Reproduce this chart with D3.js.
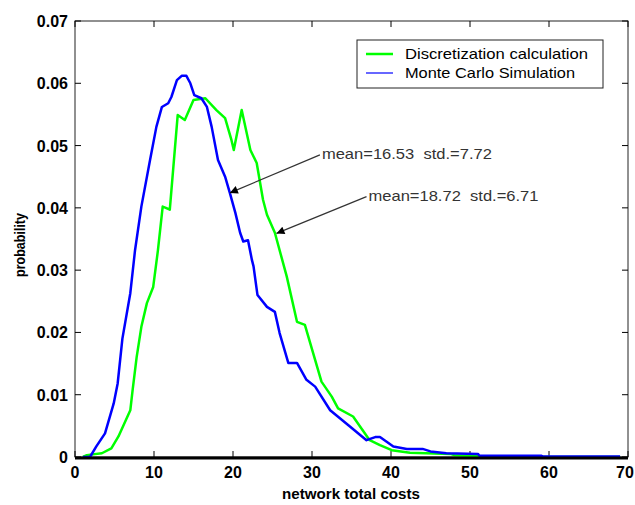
<!DOCTYPE html>
<html>
<head>
<meta charset="utf-8">
<script src="https://cdn.jsdelivr.net/npm/d3@7"></script>
<style>
    body { margin: 0; background: #fff; }
    svg text { font-family: "Liberation Sans", Arial, sans-serif; fill: #000; white-space: pre; }
</style>
</head>
<body>
<svg id="chart" width="635" height="505"></svg>
<script>
// Monte Carlo Simulation (blue)
const costsMC = [1, 1.9, 2.7, 3.8, 4.9, 5.4, 6.0, 7.0, 7.6, 8.4, 9.5, 10.3, 11.0, 11.8, 12.2, 12.9, 13.5, 14.1,
    14.6, 15.1, 16.0, 16.7, 17.3, 18.1, 19.0, 19.6, 20.3, 20.9, 21.3, 21.9, 22.4, 22.6, 23.1, 24.3, 25.3, 25.9,
    27.0, 28.1, 29.3, 30.4, 32.3, 34.8, 36.9, 38.0, 38.6, 40.3, 42.0, 44.0, 45.0, 47.0, 51.0, 51.2, 59.0, 59.2, 69.0];
const probMC = [0, 0, 0.0017, 0.0038, 0.0086, 0.0118, 0.0190, 0.0263, 0.0332, 0.0402, 0.0477, 0.0530, 0.0562, 0.0568,
    0.0578, 0.0605, 0.0612, 0.0612, 0.0600, 0.0581, 0.0576, 0.0562, 0.0530, 0.0477, 0.0450, 0.0424, 0.0392, 0.0360,
    0.0346, 0.0348, 0.0316, 0.0306, 0.0260, 0.0241, 0.0233, 0.0199, 0.0151, 0.0151, 0.0124, 0.0113, 0.0075, 0.0049,
    0.0027, 0.0032, 0.0032, 0.0017, 0.0013, 0.0013, 0.0009, 0.0006, 0.0005, 0.0002, 0.0002, 0.0001, 0.0001];

// Discretization calculation (green)
const costsDisc = [1, 1.5, 3.4, 4.6, 5.5, 7.0, 7.3, 7.8, 8.4, 9.1, 9.9, 10.5, 11.1, 11.5, 12.0, 13.0, 13.9, 15.0,
    16.5, 17.9, 19.0, 19.8, 20.1, 21.1, 22.2, 23.0, 23.8, 24.3, 25.3, 26.8, 28.1, 29.1, 31.2, 32.5, 33.3, 35.2,
    37.3, 38.6, 40.1, 42.4, 47.5, 48.0, 52.0, 60.0, 69.0];
const probDisc = [0, 0.0003, 0.0006, 0.0014, 0.0033, 0.0075, 0.0108, 0.0160, 0.0209, 0.0247, 0.0273, 0.0332, 0.0402,
    0.0400, 0.0397, 0.0549, 0.0541, 0.0573, 0.0576, 0.0557, 0.0544, 0.0509, 0.0493, 0.0557, 0.0493, 0.0472, 0.0413,
    0.0389, 0.0360, 0.0290, 0.0217, 0.0212, 0.0121, 0.0097, 0.0078, 0.0065, 0.0027, 0.0019, 0.0011, 0.0007, 0.0005,
    0.0003, 0.0001, 0, 0];

const xTicks = [0, 10, 20, 30, 40, 50, 60, 70];
const yTicks = [0, 0.01, 0.02, 0.03, 0.04, 0.05, 0.06, 0.07];
const seriesNames = ['Discretization calculation', 'Monte Carlo Simulation'];
const seriesColors = ['#00ff00', '#0000ff'];

// annotation text + where the arrow points (data units)
const noteLabels = ['mean=16.53  std.=7.72', 'mean=18.72  std.=6.71'];
const noteTips = [[19.6, 0.0424], [25.5, 0.0359]];
const noteTails = [[31.0, 0.0485], [36.9, 0.0418]];

const LEFT = 75, RIGHT = 628, TOP = 21, BOTTOM = 457, TICK = 6;

const svg = d3.select('#chart');

const x = d3.scaleLinear().domain([0, 70]).range([LEFT, RIGHT]),
    y = d3.scaleLinear().domain([0, 0.07]).range([BOTTOM, TOP]);

svg.append('defs').append('marker')
    .attr('id', 'arrow')
    .attr('viewBox', '0 0 10 10')
    .attr('refX', 10).attr('refY', 5)
    .attr('markerWidth', 11).attr('markerHeight', 8)
    .attr('markerUnits', 'userSpaceOnUse')
    .attr('orient', 'auto')
    .append('path')
    .attr('d', 'M0,0 L10,5 L0,10 Z')
    .style('fill', '#000');

// frame
svg.append('rect')
    .attr('x', LEFT).attr('y', TOP)
    .attr('width', RIGHT - LEFT).attr('height', BOTTOM - TOP)
    .style('fill', 'none').style('stroke', '#222').style('stroke-width', 1);

// ticks on all four sides, pointing inwards
const tickGroup = svg.append('g').style('stroke', '#000').style('stroke-width', 1);
xTicks.forEach(t => {
    tickGroup.append('line').attr('x1', x(t)).attr('x2', x(t)).attr('y1', BOTTOM).attr('y2', BOTTOM - TICK);
    tickGroup.append('line').attr('x1', x(t)).attr('x2', x(t)).attr('y1', TOP).attr('y2', TOP + TICK);
});
yTicks.forEach(t => {
    tickGroup.append('line').attr('x1', LEFT).attr('x2', LEFT + TICK).attr('y1', y(t)).attr('y2', y(t));
    tickGroup.append('line').attr('x1', RIGHT).attr('x2', RIGHT - TICK).attr('y1', y(t)).attr('y2', y(t));
});

// tick labels (last one nudged so it stays inside the window)
svg.append('g').selectAll('text')
    .data(xTicks)
    .enter()
    .append('text')
    .attr('x', d => d === 70 ? x(d) - 3 : x(d))
    .attr('y', BOTTOM + 21)
    .attr('text-anchor', 'middle')
    .style('font-size', '16px')
    .style('font-weight', 'bold')
    .text(d => d);

svg.append('g').selectAll('text')
    .data(yTicks)
    .enter()
    .append('text')
    .attr('x', LEFT - 7)
    .attr('y', d => y(d) + 6)
    .attr('text-anchor', 'end')
    .style('font-size', '16px')
    .style('font-weight', 'bold')
    .text(d => d === 0 ? '0' : d3.format('.2f')(d));

// axis titles
svg.append('text')
    .attr('x', 351).attr('y', 499)
    .attr('text-anchor', 'middle')
    .style('font-size', '15px')
    .style('font-weight', 'bold')
    .attr('textLength', 138)
    .attr('lengthAdjust', 'spacingAndGlyphs')
    .text('network total costs');

svg.append('text')
    .attr('transform', 'translate(25,245) rotate(-90)')
    .attr('text-anchor', 'middle')
    .style('font-size', '15px')
    .style('font-weight', 'bold')
    .attr('textLength', 64)
    .attr('lengthAdjust', 'spacingAndGlyphs')
    .text('probability');

// curves
const line = d3.line().x(d => x(d[0])).y(d => y(d[1]));
const series = [
    d3.zip(costsDisc, probDisc),
    d3.zip(costsMC, probMC)
];
series.forEach((s, i) => {
    svg.append('path')
        .datum(s)
        .attr('d', line)
        .style('fill', 'none')
        .style('stroke', seriesColors[i])
        .style('stroke-width', 2.5)
        .style('stroke-linejoin', 'round');
});

// bottom axis line drawn heavy as in the original
svg.append('line')
    .attr('x1', LEFT).attr('x2', RIGHT)
    .attr('y1', BOTTOM + 1).attr('y2', BOTTOM + 1)
    .style('stroke', '#000').style('stroke-width', 3);

// annotations
noteLabels.forEach((label, i) => {
    svg.append('line')
        .attr('x1', x(noteTails[i][0])).attr('y1', y(noteTails[i][1]))
        .attr('x2', x(noteTips[i][0])).attr('y2', y(noteTips[i][1]))
        .style('stroke', '#333').style('stroke-width', 1.2)
        .attr('marker-end', 'url(#arrow)');
    svg.append('text')
        .attr('x', x(noteTails[i][0]) + 2)
        .attr('y', y(noteTails[i][1]) + 4)
        .style('font-size', '15px')
        .style('fill', '#333')
        .attr('textLength', 170)
        .attr('lengthAdjust', 'spacingAndGlyphs')
        .text(label);
});

// legend
const legend = svg.append('g').attr('transform', 'translate(357,40)');
legend.append('rect')
    .attr('width', 246).attr('height', 48)
    .style('fill', '#fff').style('stroke', '#222').style('stroke-width', 1);
seriesNames.forEach((name, i) => {
    legend.append('line')
        .attr('x1', 9).attr('x2', 36)
        .attr('y1', 14 + i * 19).attr('y2', 14 + i * 19)
        .style('stroke', seriesColors[i])
        .style('stroke-width', i === 0 ? 2.5 : 1.2);
    legend.append('text')
        .attr('x', 48).attr('y', 19 + i * 19)
        .style('font-size', '15px')
        .attr('textLength', i === 0 ? 183 : 170)
        .attr('lengthAdjust', 'spacingAndGlyphs')
        .text(name);
});
</script>
</body>
</html>
